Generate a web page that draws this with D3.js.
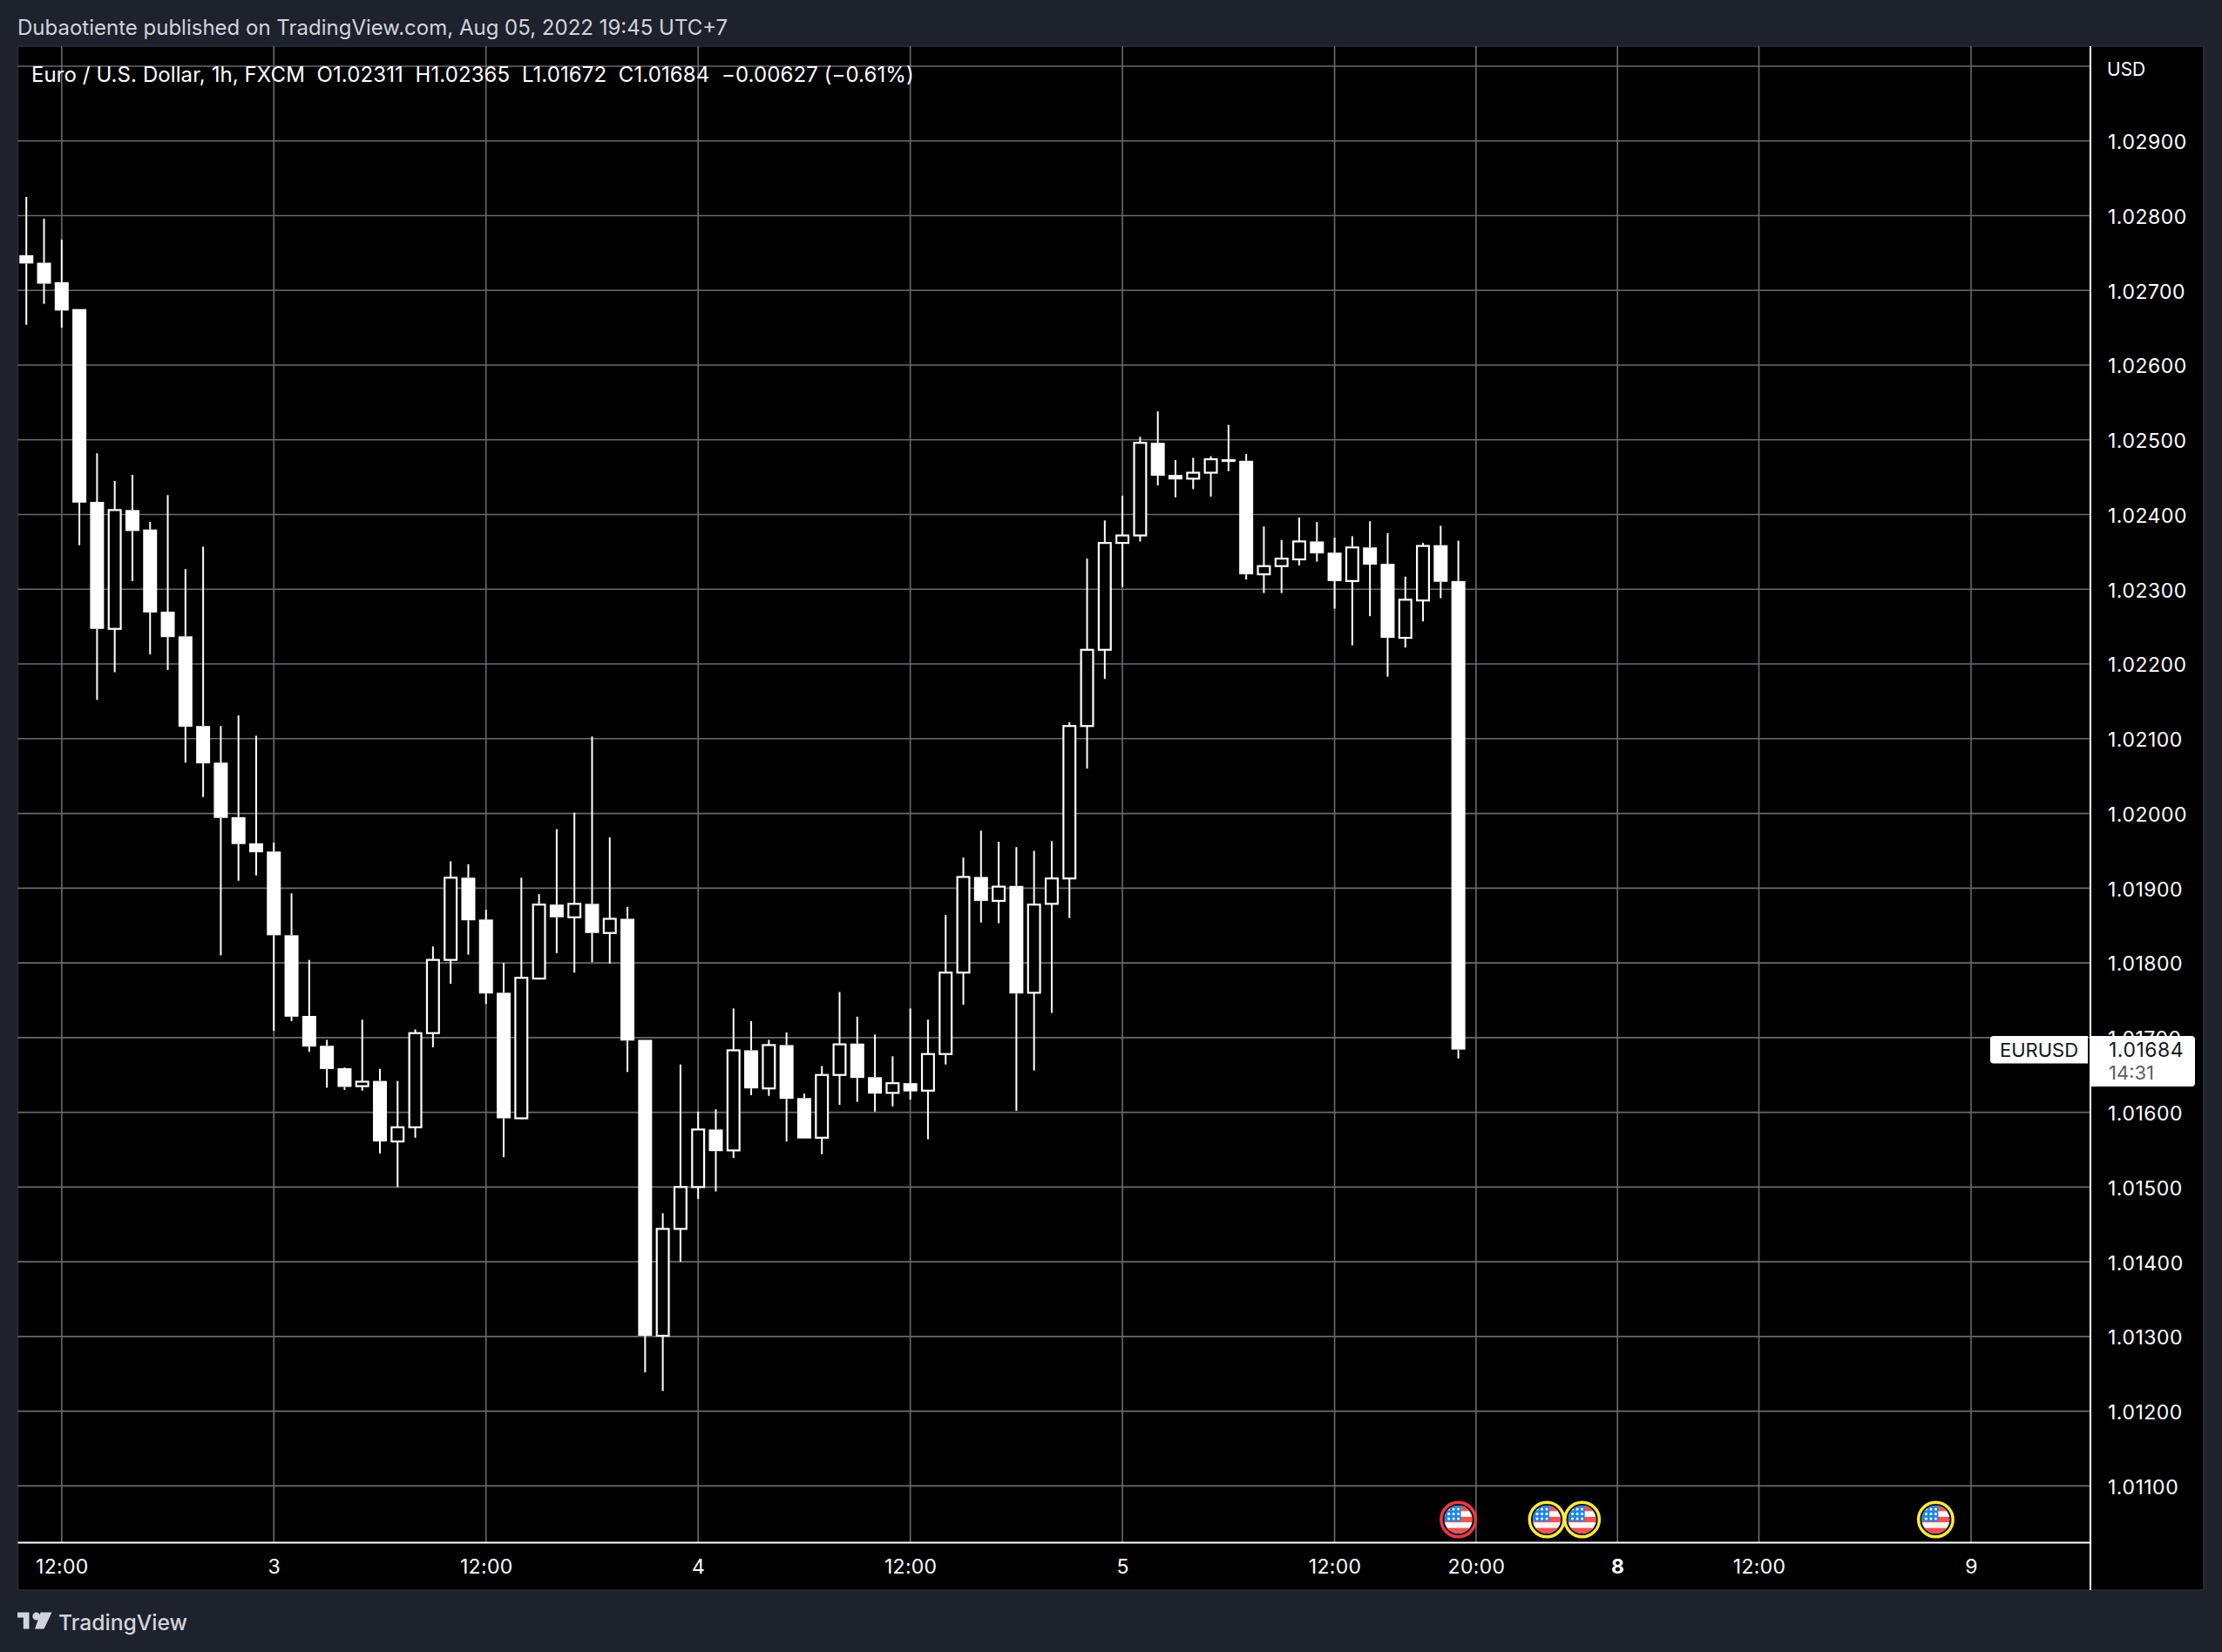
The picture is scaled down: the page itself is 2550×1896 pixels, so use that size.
<!DOCTYPE html>
<html><head><meta charset="utf-8">
<script src="https://cdn.jsdelivr.net/npm/d3@7/dist/d3.min.js"></script>
<style>
html,body{margin:0;padding:0;background:#1e222d;}
svg{display:block;}
text{font-family:Inter,"Noto Sans",sans-serif;}
</style></head><body>
<svg id="c" width="2550" height="1896"></svg>
<script>
const opens=[1.02747,1.02737,1.02711,1.02675,1.02417,1.02247,1.02406,1.02380,1.02270,1.02237,
1.02117,1.02068,1.01995,1.01960,1.01949,1.01837,1.01729,1.01689,1.01659,1.01635,
1.01642,1.01561,1.01580,1.01706,1.01804,1.01914,1.01858,1.01760,1.01592,1.01779,
1.01878,1.01861,1.01879,1.01840,1.01859,1.01697,1.01301,1.01444,1.01500,1.01577,
1.01549,1.01683,1.01632,1.01690,1.01619,1.01566,1.01650,1.01692,1.01647,1.01626,
1.01639,1.01629,1.01678,1.01787,1.01915,1.01883,1.01903,1.01760,1.01879,1.01913,
1.02117,1.02219,1.02362,1.02372,1.02496,1.02453,1.02448,1.02456,1.02474,1.02472,
1.02320,1.02331,1.02340,1.02364,1.02349,1.02311,1.02356,1.02334,1.02235,1.02285,
1.02359,1.02311];
const highs=[1.02825,1.02796,1.02768,1.02675,1.02482,1.02445,1.02453,1.02390,1.02426,1.02327,
1.02357,1.02117,1.02131,1.02104,1.01961,1.01893,1.01804,1.01697,1.01660,1.01724,
1.01658,1.01642,1.01711,1.01822,1.01936,1.01932,1.01871,1.01800,1.01914,1.01892,
1.01979,1.02001,1.02103,1.01968,1.01875,1.01697,1.01465,1.01664,1.01601,1.01604,
1.01739,1.01722,1.01697,1.01707,1.01625,1.01662,1.01761,1.01728,1.01704,1.01675,
1.01739,1.01724,1.01864,1.01941,1.01977,1.01962,1.01955,1.01950,1.01963,1.02122,
1.02341,1.02392,1.02425,1.02504,1.02538,1.02473,1.02476,1.02478,1.02520,1.02481,
1.02384,1.02366,1.02396,1.02390,1.02369,1.02371,1.02391,1.02375,1.02317,1.02362,
1.02385,1.02365];
const lows=[1.02654,1.02682,1.02650,1.02359,1.02152,1.02189,1.02311,1.02213,1.02192,1.02068,
1.02022,1.01810,1.01910,1.01917,1.01709,1.01722,1.01681,1.01633,1.01630,1.01629,
1.01545,1.01500,1.01566,1.01687,1.01772,1.01811,1.01745,1.01540,1.01591,1.01779,
1.01813,1.01787,1.01801,1.01799,1.01654,1.01252,1.01227,1.01400,1.01484,1.01494,
1.01539,1.01623,1.01622,1.01561,1.01565,1.01544,1.01610,1.01614,1.01601,1.01608,
1.01617,1.01564,1.01664,1.01744,1.01854,1.01853,1.01602,1.01656,1.01733,1.01860,
1.02060,1.02180,1.02303,1.02364,1.02439,1.02423,1.02434,1.02424,1.02458,1.02313,
1.02295,1.02295,1.02332,1.02337,1.02274,1.02225,1.02264,1.02183,1.02222,1.02257,
1.02288,1.01672];
const closes=[1.02736,1.02709,1.02673,1.02416,1.02247,1.02406,1.02378,1.02269,1.02236,1.02116,
1.02067,1.01994,1.01959,1.01948,1.01837,1.01728,1.01688,1.01658,1.01634,1.01641,
1.01561,1.01580,1.01706,1.01804,1.01914,1.01857,1.01759,1.01592,1.01780,1.01878,
1.01861,1.01879,1.01840,1.01859,1.01696,1.01301,1.01444,1.01500,1.01577,1.01548,
1.01683,1.01632,1.01690,1.01618,1.01565,1.01650,1.01691,1.01646,1.01625,1.01639,
1.01628,1.01678,1.01787,1.01915,1.01883,1.01902,1.01759,1.01878,1.01913,1.02117,
1.02219,1.02362,1.02372,1.02496,1.02452,1.02447,1.02456,1.02474,1.02471,1.02320,
1.02331,1.02341,1.02364,1.02348,1.02311,1.02356,1.02333,1.02235,1.02286,1.02358,
1.02310,1.01684];
const priceTicks=[1.029,1.028,1.027,1.026,1.025,1.024,1.023,1.022,1.021,1.020,1.019,1.018,1.017,1.016,1.015,1.014,1.013,1.012,1.011];
const priceGrid=[1.030].concat(priceTicks);
const timeTicks=[2,14,26,38,50,62,74,82,90,98,110];
const timeLabels=["12:00","3","12:00","4","12:00","5","12:00","20:00","8","12:00","9"];
const boldTimeLabels=["8"];
const eventBars=[81,86,88,108];
const eventColors=["#f23645","#ffeb3b","#ffeb3b","#ffeb3b"];
const publishLine="Dubaotiente published on TradingView.com, Aug 05, 2022 19:45 UTC+7";
const legendLine="Euro / U.S. Dollar, 1h, FXCM  O1.02311  H1.02365  L1.01672  C1.01684  \u22120.00627 (\u22120.61%)";
const lastPrice=1.01684;

const L=20.5,R=2399,T=53,B=1770.5,FB=1825,FR=2529;
const svg=d3.select("#c");
const x=d3.scaleLinear().domain([2,110]).range([70.8,2262]);
const y=d3.scaleLinear().domain([1.030,1.011]).range([76,1705.4]);
const GRID="#69696f";

svg.append("rect").attr("x",L).attr("y",T).attr("width",FR-L).attr("height",FB-T)
  .attr("fill","#000").attr("stroke","#2a2e39").attr("stroke-width",1.5);

// grid
const g=svg.append("g");
g.selectAll("line.h").data(priceGrid).join("line").attr("class","h")
  .attr("x1",L).attr("x2",R).attr("y1",d=>y(d)).attr("y2",d=>y(d))
  .attr("stroke",GRID).attr("stroke-width",1.6);
g.selectAll("line.v").data(timeTicks).join("line").attr("class","v")
  .attr("x1",d=>x(d)).attr("x2",d=>x(d)).attr("y1",T).attr("y2",B)
  .attr("stroke",GRID).attr("stroke-width",1.6);

// candles
const rows=opens.map((o,i)=>({i,o,h:highs[i],l:lows[i],c:closes[i]}));
const bodyW=16,strokeW=2.2;
const cg=svg.append("g").selectAll("g").data(rows).join("g");
cg.append("line").attr("x1",d=>x(d.i)).attr("x2",d=>x(d.i))
  .attr("y1",d=>y(d.h)).attr("y2",d=>y(Math.max(d.o,d.c)))
  .attr("stroke","#fff").attr("stroke-width",2);
cg.append("line").attr("x1",d=>x(d.i)).attr("x2",d=>x(d.i))
  .attr("y1",d=>y(Math.min(d.o,d.c))).attr("y2",d=>y(d.l))
  .attr("stroke","#fff").attr("stroke-width",2);
cg.filter(d=>d.c<=d.o).append("rect")
  .attr("x",d=>x(d.i)-bodyW/2).attr("width",bodyW)
  .attr("y",d=>y(d.o)).attr("height",d=>Math.max(3,y(d.c)-y(d.o)))
  .attr("fill","#fff");
cg.filter(d=>d.c>d.o).append("rect")
  .attr("x",d=>x(d.i)-bodyW/2+strokeW/2).attr("width",bodyW-strokeW)
  .attr("y",d=>y(d.c)).attr("height",d=>y(d.o)-y(d.c))
  .attr("fill","#000").attr("stroke","#fff").attr("stroke-width",strokeW);

// axes frame lines
svg.append("line").attr("x1",L).attr("x2",R).attr("y1",B).attr("y2",B).attr("stroke","#fff").attr("stroke-width",2);
svg.append("line").attr("x1",R).attr("x2",R).attr("y1",T).attr("y2",FB).attr("stroke","#fff").attr("stroke-width",2);

// axes
const yAxis=d3.axisRight(y).tickValues(priceTicks).tickSize(0).tickPadding(0).tickFormat(d3.format(".5f"));
const ya=svg.append("g").attr("transform",`translate(2419,1.5)`).call(yAxis);
ya.select(".domain").remove();
ya.selectAll("text").attr("fill","#fff").attr("font-size",23).attr("letter-spacing",0.5).attr("font-family","Inter");
svg.append("text").attr("x",2418).attr("y",79.5).attr("dy","0.35em").attr("fill","#fff").attr("font-size",21).text("USD");

const xAxis=d3.axisBottom(x).tickValues(timeTicks).tickSize(0).tickPadding(0).tickFormat((d,i)=>timeLabels[i]);
const xa=svg.append("g").attr("transform","translate(0,1789.5)").call(xAxis);
xa.select(".domain").remove();
xa.selectAll("text").attr("fill","#fff").attr("font-size",23).attr("letter-spacing",0.3).attr("font-family","Inter")
  .attr("font-weight",t=>boldTimeLabels.includes(timeLabels[timeTicks.indexOf(t)])?700:400);

// texts
svg.append("text").attr("x",20).attr("y",32).attr("dy","0.35em").attr("fill","#d1d4dc").attr("font-size",24).text(publishLine);
svg.append("text").attr("x",36).attr("y",86).attr("dy","0.35em").attr("fill","#fff").attr("font-size",24).attr("letter-spacing",0.09).style("white-space","pre").text(legendLine);

// last price tags
const py=y(lastPrice);
svg.append("path").attr("d",`M2396 ${py-15.5}H2288a4 4 0 0 0 -4 4V${py+12}a4 4 0 0 0 4 4H2396Z`).attr("fill","#fff");
svg.append("path").attr("d",`M2400 ${py-15.5}H2515a4 4 0 0 1 4 4V${py+38.5}a4 4 0 0 1 -4 4H2400Z`).attr("fill","#fff");
svg.append("text").attr("x",2340).attr("y",py+0.5).attr("dy","0.35em").attr("text-anchor","middle").attr("fill","#131722").attr("font-size",22).text("EURUSD");
svg.append("text").attr("x",2420).attr("y",py+0.5).attr("dy","0.35em").attr("fill","#131722").attr("font-size",23).attr("letter-spacing",0.5).text(d3.format(".5f")(lastPrice));
svg.append("text").attr("x",2420).attr("y",py+27).attr("dy","0.35em").attr("fill","#5d606b").attr("font-size",22).text("14:31");

// event flags
const defs=svg.append("defs");
defs.append("clipPath").attr("id","flagClip").append("circle").attr("r",16);
const ev=svg.append("g").selectAll("g").data(eventBars).join("g")
  .attr("transform",d=>`translate(${x(d)},1744)`);
ev.append("circle").attr("r",19.8).attr("fill","#131722").attr("stroke",(d,i)=>eventColors[i]).attr("stroke-width",3.4);
const fl=ev.append("g").attr("clip-path","url(#flagClip)");
fl.append("rect").attr("x",-16).attr("y",-16).attr("width",32).attr("height",32).attr("fill","#fff");
[-16,-3.2,9.6].forEach(s=>fl.append("rect").attr("x",-16).attr("y",s).attr("width",32).attr("height",6.4).attr("fill","#f05350"));
fl.append("rect").attr("x",-16).attr("y",-16).attr("width",19).attr("height",18).attr("fill","#2187e6");
[-11,-5.5,0].forEach(cy=>[-11,-5.5,0].forEach(cx=>{
  fl.append("circle").attr("cx",cx).attr("cy",cy-1).attr("r",1.5).attr("fill","#fff");
}));

// logo
const logo=svg.append("g").attr("fill","#d1d4dc");
logo.append("path").attr("d","M20 1850.5H33.5V1869.5H26.8V1856.5H20Z");
logo.append("circle").attr("cx",41.7).attr("cy",1855).attr("r",4.4);
logo.append("path").attr("d","M46.5 1850.5H59.5L50.5 1869.5H40Z");
svg.append("text").attr("x",67).attr("y",1862).attr("dy","0.35em").attr("fill","#d1d4dc").attr("font-size",24.7).attr("font-weight",500).text("TradingView");
</script>
</body></html>
